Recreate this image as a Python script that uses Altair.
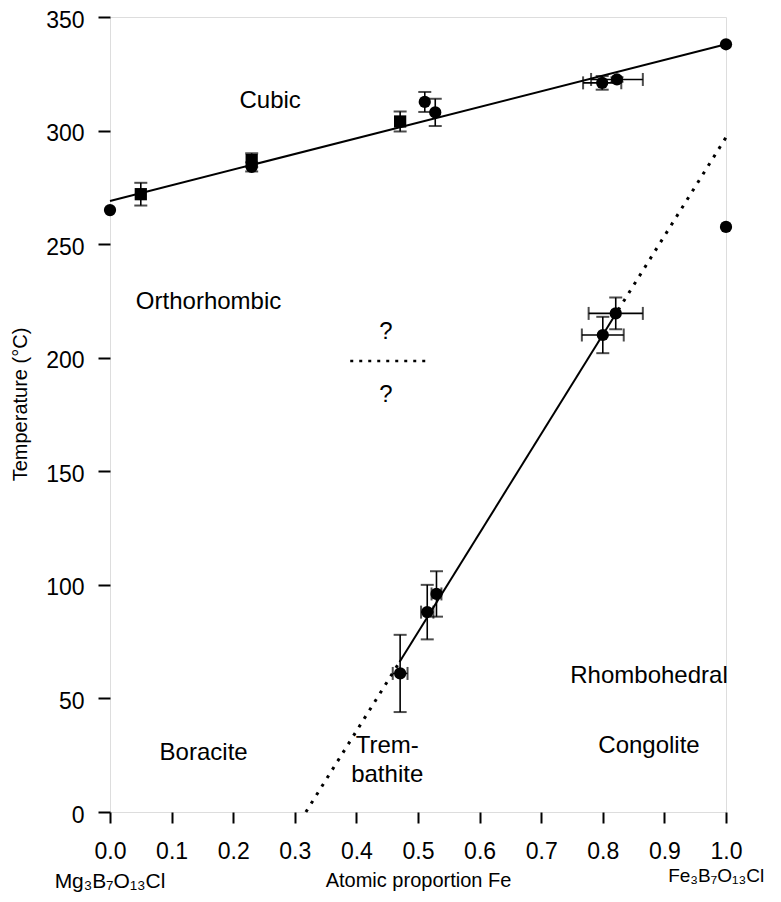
import altair as alt
import pandas as pd

FONT = "Liberation Sans"

# measured points
pt_x = [0.0, 0.05, 0.23, 0.23, 0.471, 0.511, 0.528, 0.799, 0.823, 1.0, 1.0,
        0.471, 0.515, 0.53, 0.80, 0.821]
pt_y = [265, 272, 287, 284, 304, 312.6, 308, 321, 322.5, 338, 257.6,
        61, 88, 96, 210, 219.5]
pt_xerr = [0, 0, 0, 0, 0, 0, 0, 0.031, 0.042, 0, 0,
           0.012, 0.01, 0.008, 0.034, 0.044]
pt_yerr = [0, 5, 3, 2, 4.4, 4.4, 6, 3, 1, 0, 0,
           17, 12, 10, 8, 7]
pt_shape = ["circle", "square", "square", "circle", "square", "circle", "circle",
            "circle", "circle", "circle", "circle",
            "circle", "circle", "circle", "circle", "circle"]

# boundary lines
upper_x = [0.0, 1.0]
upper_y = [269, 338]
lower_solid_x = [0.47, 0.825]
lower_solid_y = [66, 221]
lower_dot_x = [0.318, 0.47, 0.825, 1.0]
lower_dot_y = [0, 66, 221, 297]
lower_dot_seg = ["a", "a", "b", "b"]
q_line_x = [0.39, 0.516]
q_line_y = [198.5, 198.5]

# labels
lab_text = ["Cubic", "Orthorhombic", "?", "?", "Rhombohedral", "Congolite",
            "Boracite", "Trem-", "bathite"]
lab_x = [0.26, 0.16, 0.448, 0.448, 0.875, 0.875, 0.152, 0.45, 0.45]
lab_y = [313, 224.5, 211.5, 183.5, 60, 29, 26, 29, 16.5]

form_text = ["Mg\u2083B\u2087O\u2081\u2083Cl", "Fe\u2083B\u2087O\u2081\u2083Cl"]
form_x = [0.0, 0.984]
form_y = [-31, -28]
form_size = [21, 19]

pts = pd.DataFrame({"x": pt_x, "y": pt_y, "xerr": pt_xerr, "yerr": pt_yerr, "shape": pt_shape})
pts["xlo"] = pts.x - pts.xerr
pts["xhi"] = pts.x + pts.xerr
pts["ylo"] = pts.y - pts.yerr
pts["yhi"] = pts.y + pts.yerr
ye = pts[pts.yerr > 0]
xe = pts[pts.xerr > 0]
ycaps = pd.DataFrame({"x": list(ye.x) * 2, "y": list(ye.ylo) + list(ye.yhi)})
xcaps = pd.DataFrame({"x": list(xe.xlo) + list(xe.xhi), "y": list(xe.y) * 2})

xs = alt.Scale(domain=[0, 1], nice=False, zero=False)
ys = alt.Scale(domain=[0, 350], nice=False)

X = lambda f: alt.X(f, type="quantitative", scale=xs,
                    axis=alt.Axis(values=[i / 10 for i in range(11)], format=".1f",
                                  title="Atomic proportion Fe", grid=False,
                                  tickSize=11, tickWidth=2, tickColor="black",
                                  labelPadding=17, labelFontSize=23, labelColor="black",
                                  labelFlush=False,
                                  labelFont=FONT, titleFont=FONT, titleFontSize=20,
                                  titleFontWeight="normal", titleColor="black",
                                  titleY=68, titleBaseline="middle",
                                  domain=False))
Y = lambda f: alt.Y(f, type="quantitative", scale=ys,
                    axis=alt.Axis(values=list(range(0, 351, 50)),
                                  title="Temperature (\u00b0C)", grid=False,
                                  tickSize=12, tickWidth=2, tickColor="black",
                                  labelPadding=14, labelFontSize=23, labelColor="black",
                                  labelFlush=False, labelOffset=3,
                                  labelFont=FONT, titleFont=FONT, titleFontSize=20,
                                  titleFontWeight="normal", titleColor="black",
                                  titleX=-90, titleY=387, titleAngle=-90,
                                  titleBaseline="middle", titleAlign="center",
                                  domain=False))

upper = alt.Chart(pd.DataFrame({"x": upper_x, "y": upper_y})).mark_line(
    color="black", strokeWidth=2).encode(x=X("x"), y=Y("y"))
lsolid = alt.Chart(pd.DataFrame({"x": lower_solid_x, "y": lower_solid_y})).mark_line(
    color="black", strokeWidth=2).encode(x=X("x"), y=Y("y"))
ldot = alt.Chart(pd.DataFrame({"x": lower_dot_x, "y": lower_dot_y, "s": lower_dot_seg})).mark_line(
    color="black", strokeWidth=3, strokeDash=[3, 7]).encode(x=X("x"), y=Y("y"), detail="s:N")
qline = alt.Chart(pd.DataFrame({"x": q_line_x, "y": q_line_y})).mark_line(
    color="black", strokeWidth=2.5, strokeDash=[3, 6]).encode(x=X("x"), y=Y("y"))

yrule = alt.Chart(ye).mark_rule(color="black", strokeWidth=1.6).encode(
    x=X("x"), y=Y("ylo"), y2="yhi")
xrule = alt.Chart(xe).mark_rule(color="black", strokeWidth=1.6).encode(
    x=X("xlo"), x2="xhi", y=Y("y"))
ycap = alt.Chart(ycaps).mark_tick(color="black", orient="horizontal", size=13,
                                  thickness=2).encode(x=X("x"), y=Y("y"))
xcap = alt.Chart(xcaps).mark_tick(color="black", orient="vertical", size=13,
                                  thickness=2).encode(x=X("x"), y=Y("y"))
points = alt.Chart(pts).mark_point(filled=True, color="black", opacity=1, size=150).encode(
    x=X("x"), y=Y("y"), shape=alt.Shape("shape:N", scale=None))

labels = alt.Chart(pd.DataFrame({"t": lab_text, "x": lab_x, "y": lab_y})).mark_text(
    font=FONT, fontSize=24, color="black", align="center", baseline="middle").encode(
    x=X("x"), y=Y("y"), text="t:N")
forms = alt.Chart(pd.DataFrame({"t": form_text, "x": form_x, "y": form_y, "s": form_size})).mark_text(
    font=FONT, color="black", align="center", baseline="middle").encode(
    x=X("x"), y=Y("y"), text="t:N", size=alt.Size("s:Q", scale=None, legend=None))

chart = alt.layer(upper, lsolid, ldot, qline, yrule, xrule, ycap, xcap, points,
                  labels, forms).properties(
    width=616, height=795,
    autosize=alt.AutoSizeParams(type="none"),
    padding={"left": 102, "top": 9, "right": 46, "bottom": 81},
).configure_view(stroke="black", strokeWidth=2).configure(background="white")

chart.save("out.html", embed_options={"renderer": "svg", "actions": False})
